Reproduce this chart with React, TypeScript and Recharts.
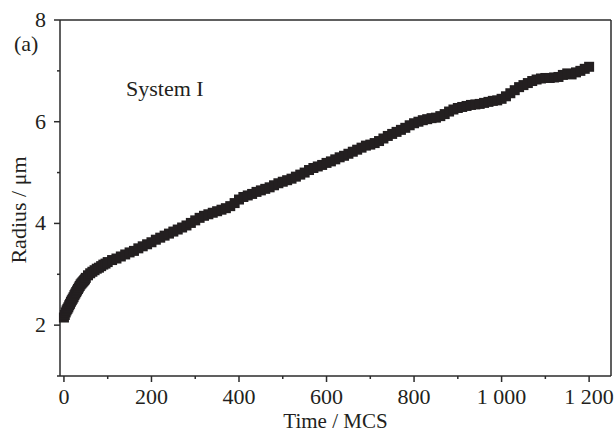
import { ScatterChart, Scatter, XAxis, YAxis, ReferenceLine } from 'recharts'

// Time (MCS): denser sampling at the start where the curve is steep
const times = [
  0, 2, 4, 6, 8, 10, 12, 14, 16, 18,
  20, 22, 24, 26, 28, 30, 32, 34, 36, 38,
  40, 42, 44, 46, 48, 50, 55, 60, 65, 70,
  75, 80, 85, 90, 95,
  100, 110, 120, 130, 140, 150, 160, 170, 180, 190,
  200, 210, 220, 230, 240, 250, 260, 270, 280, 290,
  300, 310, 320, 330, 340, 350, 360, 370, 380, 390,
  400, 410, 420, 430, 440, 450, 460, 470, 480, 490,
  500, 510, 520, 530, 540, 550, 560, 570, 580, 590,
  600, 610, 620, 630, 640, 650, 660, 670, 680, 690,
  700, 710, 720, 730, 740, 750, 760, 770, 780, 790,
  800, 810, 820, 830, 840, 850, 860, 870, 880, 890,
  900, 910, 920, 930, 940, 950, 960, 970, 980, 990,
  1000, 1010, 1020, 1030, 1040, 1050, 1060, 1070, 1080, 1090,
  1100, 1110, 1120, 1130, 1140, 1150, 1160, 1170, 1180, 1190,
  1200,
]
const radius = [
  2.15, 2.2, 2.25, 2.29, 2.32, 2.35, 2.39, 2.42, 2.46, 2.49,
  2.52, 2.55, 2.59, 2.62, 2.65, 2.68, 2.71, 2.74, 2.77, 2.8,
  2.82, 2.84, 2.86, 2.88, 2.9, 2.93, 2.98, 3.02, 3.05, 3.08,
  3.11, 3.13, 3.16, 3.19, 3.21,
  3.24, 3.28, 3.31, 3.35, 3.39, 3.43, 3.46, 3.51, 3.55, 3.59,
  3.63, 3.68, 3.72, 3.76, 3.8, 3.84, 3.88, 3.92, 3.96, 4.01,
  4.06, 4.11, 4.15, 4.18, 4.21, 4.24, 4.27, 4.3, 4.34, 4.4,
  4.47, 4.52, 4.55, 4.58, 4.62, 4.65, 4.68, 4.71, 4.75, 4.79,
  4.82, 4.85, 4.88, 4.92, 4.96, 5.0, 5.05, 5.09, 5.12, 5.15,
  5.19, 5.22, 5.26, 5.3, 5.33, 5.37, 5.41, 5.45, 5.49, 5.53,
  5.55, 5.58, 5.62, 5.67, 5.72, 5.76, 5.8, 5.84, 5.88, 5.93,
  5.97, 6.0, 6.03, 6.05, 6.07, 6.08, 6.11, 6.15, 6.2, 6.24,
  6.27, 6.29, 6.31, 6.33, 6.34, 6.35, 6.37, 6.39, 6.41, 6.42,
  6.45, 6.5, 6.56, 6.62, 6.68, 6.72, 6.76, 6.8, 6.83, 6.85,
  6.86, 6.86, 6.87, 6.88, 6.92, 6.95, 6.93, 6.97, 7.0, 7.04,
  7.08,
]
const xTicks = [0, 100, 200, 300, 400, 500, 600, 700, 800, 900, 1000, 1100, 1200]
const yTicks = [1, 2, 3, 4, 5, 6, 7, 8]

const data = times.map((t, i) => ({ t, r: radius[i] }))

const FONT = '"Liberation Serif", "Times New Roman", serif'
const INK = '#231f20'
const AXIS = '#2b2b2b'

// "1 000" style thousands grouping
const fmt = (v: number) => String(v).replace(/\B(?=(\d{3})+(?!\d))/g, ' ')

function XTick(props: any) {
  const { x, y, payload } = props
  const major = payload.value % 200 === 0
  return (
    <g>
      <line x1={x} y1={y} x2={x} y2={y + (major ? 6 : 3)} stroke={AXIS} strokeWidth={1.5} />
      {major && (
        <text x={x} y={y + 28} textAnchor="middle" fontFamily={FONT} fontSize={22} fill={INK}>
          {fmt(payload.value)}
        </text>
      )}
    </g>
  )
}

function YTick(props: any) {
  const { x, y, payload } = props
  const major = payload.value % 2 === 0
  return (
    <g>
      <line x1={x} y1={y} x2={x - (major ? 6 : 3)} y2={y} stroke={AXIS} strokeWidth={1.5} />
      {major && (
        <text x={x - 14} y={y + 7} textAnchor="end" fontFamily={FONT} fontSize={22} fill={INK}>
          {payload.value}
        </text>
      )}
    </g>
  )
}

const Square = (p: any) => (
  <rect x={p.cx - 5} y={p.cy - 5} width={10} height={10} fill={INK} />
)

export default function App() {
  return (
    <div style={{ position: 'relative', width: 616, height: 432, background: '#fff' }}>
      <style>{'body{margin:0}'}</style>
      <ScatterChart width={616} height={432} margin={{ top: 20, right: 5, bottom: 0, left: 0 }}>
        <XAxis
          type="number"
          dataKey="t"
          domain={[-9, 1250]}
          ticks={xTicks}
          interval={0}
          height={56}
          tickSize={0}
          tickMargin={0}
          tickLine={false}
          axisLine={{ stroke: AXIS, strokeWidth: 1.5 }}
          tick={XTick}
          label={{
            content: (p: any) => {
              const vb = p.viewBox
              return (
                <text x={vb.x + vb.width / 2} y={428} textAnchor="middle" fontFamily={FONT} fontSize={21} fill={INK}>
                  Time / MCS
                </text>
              )
            },
          }}
        />
        <YAxis
          type="number"
          dataKey="r"
          domain={[1, 8]}
          ticks={yTicks}
          interval={0}
          width={60}
          tickSize={0}
          tickMargin={0}
          tickLine={false}
          axisLine={{ stroke: AXIS, strokeWidth: 1.5 }}
          tick={YTick}
          label={{
            content: () => (
              <text x={26} y={210} transform="rotate(-90 26 210)" textAnchor="middle" fontFamily={FONT} fontSize={22} fill={INK}>
                Radius / μm
              </text>
            ),
          }}
        />
        <ReferenceLine y={8} stroke={AXIS} strokeWidth={1.5} />
        <ReferenceLine x={1250} stroke={AXIS} strokeWidth={1.5} />
        <Scatter data={data} shape={Square} isAnimationActive={false} />
      </ScatterChart>
      <svg width={616} height={432} style={{ position: 'absolute', left: 0, top: 0, pointerEvents: 'none' }}>
        <text x={14} y={51} fontFamily={FONT} fontSize={22} fill={INK}>(a)</text>
        <text x={126} y={96} fontFamily={FONT} fontSize={22} fill={INK}>System I</text>
      </svg>
    </div>
  )
}
